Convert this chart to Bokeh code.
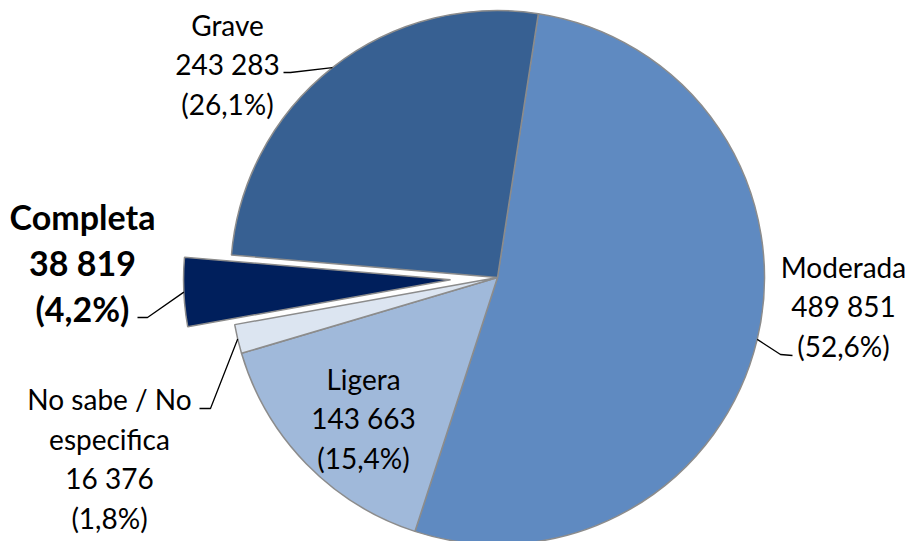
import numpy as np
from bokeh.plotting import figure
from bokeh.models import Range1d, ColumnDataSource
from bokeh.embed import file_html
from bokeh.resources import INLINE
from bokeh.core.properties import value

# ---- data ----
categories = ["Moderada", "Ligera", "No sabe / No\nespecifica", "Completa", "Grave"]
counts = [489851, 143663, 16376, 38819, 243283]
count_labels = ["489 851", "143 663", "16 376", "38 819", "243 283"]
pct_labels = ["(52,6%)", "(15,4%)", "(1,8%)", "(4,2%)", "(26,1%)"]
colors = ["#5F8AC1", "#A0B9DA", "#DCE5F1", "#001F5C", "#376092"]
exploded = [False, False, False, True, False]

# ---- layout (picture pixel coordinates; data y = 557 - picture y) ----
W, H = 905, 541
def Y(py):
    return 557 - py

CX, CY = 497, Y(277)
R = 267
START_CW = 8.8      # degrees clockwise from 12 o'clock
EXPLODE = 47

vals = np.array(counts, dtype=float)
frac = vals / vals.sum()
end_cw = START_CW + 360 * np.cumsum(frac)
start_cw = end_cw - 360 * frac
mid_cw = np.radians((start_cw + end_cw) / 2)
off = np.array([EXPLODE if e else 0 for e in exploded], dtype=float)
cx = CX + off * np.sin(mid_cw)
cy = CY + off * np.cos(mid_cw)

src = ColumnDataSource(dict(
    x=cx, y=cy,
    start=np.radians(90 - start_cw),
    end=np.radians(90 - end_cw),
    color=colors,
))

p = figure(width=W, height=H, output_backend="svg", toolbar_location=None,
           x_axis_type=None, y_axis_type=None, min_border=0,
           x_range=Range1d(0, W), y_range=Range1d(Y(H), Y(0)))
p.outline_line_color = None
p.grid.visible = False
p.background_fill_color = "white"
p.border_fill_color = "white"

p.wedge(x="x", y="y", radius=R, start_angle="start", end_angle="end",
        direction="clock", fill_color="color", line_color="#8C8C8C",
        line_width=1.5, source=src)

# leader lines: from slice edge (mid angle) to label
leader_tail = {
    0: [(780, 354), (792, 355)],
    2: [(210, 408), (199, 408)],
    3: [(147, 317), (137, 317)],
    4: [(290, 72), (283, 72)],
}
for i, pts in leader_tail.items():
    sx = cx[i] + R * np.sin(mid_cw[i])
    sy = cy[i] + R * np.cos(mid_cw[i])
    xs = [sx] + [q[0] for q in pts]
    ys = [sy] + [Y(q[1]) for q in pts]
    p.line(xs, ys, line_color="black", line_width=1.3)

# labels
label_pos = {0: (843, 306), 1: (363, 418), 2: (109, 458), 3: (82, 262), 4: (227, 64)}
font = value("Lato")
for i in range(len(categories)):
    txt = categories[i] + "\n" + count_labels[i] + "\n" + pct_labels[i]
    lx, ly = label_pos[i]
    bold = (i == 3)
    p.text([lx], [Y(ly)], text=[txt], text_font=font,
           text_font_size="34px" if bold else "28px",
           text_font_style="bold" if bold else "normal",
           text_align="center", text_baseline="middle",
           text_line_height=1.12 if bold else 1.16,
           text_color="black")

open("out.html", "w").write(file_html(p, INLINE))
